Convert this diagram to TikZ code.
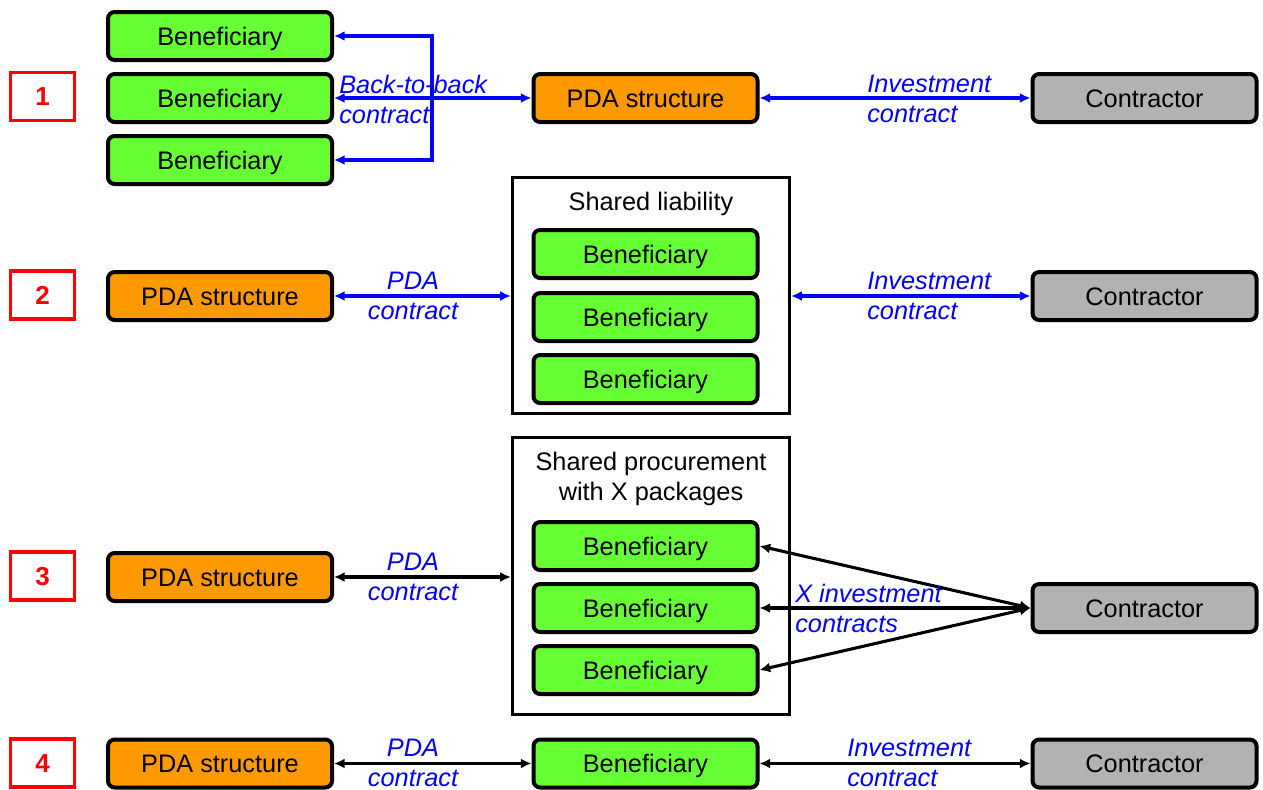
\documentclass[tikz,border=0pt]{standalone}
\usepackage{fontspec}
\setmainfont{Liberation Sans}
\usetikzlibrary{arrows.meta, positioning, calc}
\definecolor{verde}{RGB}{102,255,51}
\definecolor{laranja}{RGB}{255,153,0}
\definecolor{cinza}{RGB}{178,178,178}
\definecolor{azul}{RGB}{0,0,255}
\definecolor{vermelho}{RGB}{255,0,0}

\begin{document}
\begin{tikzpicture}[x=0.75pt, y=-0.75pt, >={Latex[length=8pt,width=7.5pt]},
        blk/.style={draw=black, line width=3pt, rounded corners=5pt,
                    minimum width=168pt, minimum height=36pt, inner sep=0pt,
                    text height=13.6pt, text depth=0pt,
                    font=\fontsize{19}{22}\selectfont},
        ben/.style={blk, fill=verde},
        pda/.style={blk, fill=laranja},
        ctr/.style={blk, fill=cinza},
        num/.style={draw=vermelho, line width=2.4pt, text=vermelho,
                    minimum width=48pt, minimum height=36pt, inner sep=0pt,
                    text height=14pt, text depth=0pt,
                    font=\fontsize{19.5}{22}\selectfont\bfseries},
        grp/.style={draw=black, line width=2.2pt, minimum width=208pt, inner sep=0pt},
        ttl/.style={font=\fontsize{19}{22.5}\selectfont, inner sep=0pt},
        lbl/.style={font=\fontsize{19}{22.5}\selectfont\itshape, text=azul, inner sep=0pt},
        con/.style={<->, line width=2.3pt}]

      \useasboundingbox (0,0) rectangle (1263,789);

      % row numbers
      \node[num] (n1) at (42.5,96.5) {1};
      \node[num] (n2) at (42.5,295)  {2};
      \node[num] (n3) at (42.5,576)  {3};
      \node[num] (n4) at (42.5,763)  {4};

      % row 1
      \node[ben] (b1a) at (220,36)  {Beneficiary};
      \node[ben] (b1b) at (220,98)  {Beneficiary};
      \node[ben] (b1c) at (220,160) {Beneficiary};
      \node[pda] (pda1) at (645.5,98) {PDA structure};
      \node[ctr] (ctr1) at (1144.5,98) {Contractor};
      \coordinate (sp) at (432,98);

      \draw[con, azul] (b1b) -- (pda1);
      \draw[->, line width=2.3pt, azul] (sp) |- (b1a.east);
      \draw[->, line width=2.3pt, azul] (sp) |- (b1c.east);
      \draw[con, azul] (pda1) -- (ctr1);
      \node[lbl, anchor=west, align=left] (l1a) at (339,99) {Back-to-back\\contract};
      \node[lbl, anchor=west, align=left] (l1b) at (867,99) {Investment\\contract};

      % row 2
      \node[pda] (pda2) at (220,296) {PDA structure};
      \node[grp, minimum height=177pt] (grp2) at (651,295.5) {};
      \node[ttl, text height=13.6pt, text depth=0pt] (t2) at (651,201) {Shared liability};
      \node[ben] (b2a) at (645.5,254) {Beneficiary};
      \node[ben] (b2b) at (645.5,317) {Beneficiary};
      \node[ben] (b2c) at (645.5,379) {Beneficiary};
      \node[ctr] (ctr2) at (1144.5,296) {Contractor};

      \draw[con, azul] (pda2) -- (pda2 -| grp2.west);
      \draw[con, azul] (grp2.east |- ctr2) -- (ctr2);
      \node[lbl, align=center] (l2a) at (413,296) {PDA\\contract};
      \node[lbl, anchor=west, align=left] (l2b) at (867,296) {Investment\\contract};

      % row 3
      \node[pda] (pda3) at (220,577) {PDA structure};
      \node[grp, minimum height=208pt] (grp3) at (651,576) {};
      \node[ttl, align=center] (t3) at (651,479) {Shared procurement\\with X packages};
      \node[ben] (b3a) at (645.5,546) {Beneficiary};
      \node[ben] (b3b) at (645.5,608) {Beneficiary};
      \node[ben] (b3c) at (645.5,670) {Beneficiary};
      \node[ctr] (ctr3) at (1144.5,608) {Contractor};

      \draw[con] (pda3) -- (pda3 -| grp3.west);
      \draw[con] (ctr3.west) -- (b3a.east);
      \draw[con] (ctr3.west) -- (b3b.east);
      \draw[con] (ctr3.west) -- (b3c.east);
      \node[lbl, align=center] (l3a) at (413,577) {PDA\\contract};
      \node[lbl, anchor=west, align=left] (l3b) at (795,608) {X investment\\contracts};

      % row 4
      \node[pda] (pda4) at (220,763.5) {PDA structure};
      \node[ben] (b4) at (645.5,763.5) {Beneficiary};
      \node[ctr] (ctr4) at (1144.5,763.5) {Contractor};

      \draw[con] (pda4) -- (b4);
      \draw[con] (b4) -- (ctr4);
      \node[lbl, align=center] (l4a) at (413,763) {PDA\\contract};
      \node[lbl, anchor=west, align=left] (l4b) at (847,763) {Investment\\contract};
    \end{tikzpicture}
\end{document}
